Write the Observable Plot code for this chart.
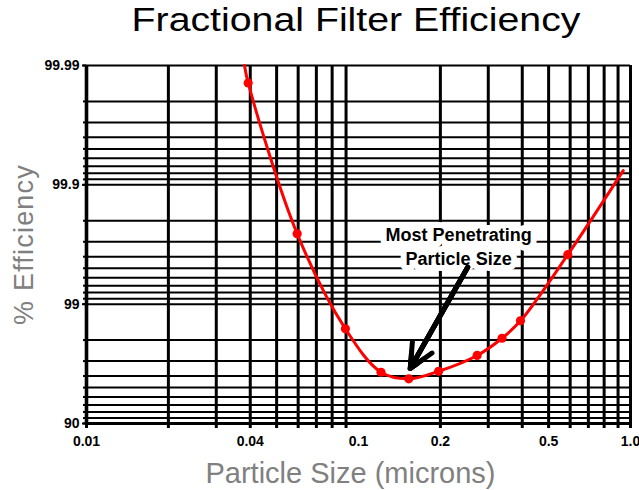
<!DOCTYPE html>
<html>
<head>
<meta charset="utf-8">
<script src="https://cdn.jsdelivr.net/npm/d3@7"></script>
<script src="https://cdn.jsdelivr.net/npm/@observablehq/plot@0.6"></script>
<style>
  body { margin: 0; background: #fff; }
  #title { position: relative; width: 639px; height: 50px; overflow: hidden; }
  #title span {
    position: absolute; left: 356px; top: 0;
    transform: translateX(-50%) scaleX(1.19);
    font: 33px "Liberation Sans", Arial, sans-serif;
    line-height: 40px; white-space: nowrap; color: #000;
  }
  #chart svg { display: block; }
</style>
</head>
<body>
<div id="title"><span>Fractional Filter Efficiency</span></div>
<div id="chart"></div>
<script>
// ---- data ----
// particle size (microns) along the red curve
const curveSize = [0.0381, 0.0393, 0.0595, 0.0895, 0.121, 0.153, 0.197, 0.273, 0.337, 0.394, 0.588, 0.94];
// % efficiency along the red curve
const curveEff  = [99.99, 99.986, 99.743, 98.39, 96.28, 95.78, 96.35, 97.31, 98.07, 98.62, 99.615, 99.924];
// which curve points carry a marker
const curveMarked = [false, true, true, true, true, true, true, true, true, true, true, false];

// vertical grid lines (particle size) - chart has no line at 0.1
const xGrid = [0.01, 0.02, 0.03, 0.04, 0.05, 0.06, 0.07, 0.08, 0.09, 0.2, 0.3, 0.4, 0.5, 0.6, 0.7, 0.8, 0.9, 1.0];
const xTickValues = [0.01, 0.04, 0.1, 0.2, 0.5, 1.0];
const xTickLabels = ["0.01", "0.04", "0.1", "0.2", "0.5", "1.0"];

// horizontal grid lines (% efficiency)
const effGrid = [99.99, 99.98, 99.97, 99.96, 99.95, 99.94, 99.93, 99.92, 99.91, 99.9,
                 99.8, 99.7, 99.6, 99.5, 99.4, 99.3, 99.2, 99.1, 99,
                 98, 97, 96, 95, 94, 93, 92, 91, 90];
const effTickValues = [99.99, 99.9, 99, 90];
const effTickLabels = ["99.99", "99.9", "99", "90"];

// annotation
const noteText = "Most Penetrating\nParticle Size";
const noteSize = 0.2334, noteEff = 99.785;
const arrowFrom = {size: 0.252, eff: 99.51};
const arrowTo   = {size: 0.155, eff: 96.54};

// ---- build ----
const pen = e => +(100 - e).toFixed(4);   // penetration = 100 - efficiency (log axis)
const curve = curveSize.map((s, i) => ({size: s, p: pen(curveEff[i]), marked: curveMarked[i]}));
const gridP = effGrid.map(pen);
const tickP = effTickValues.map(pen);
const sans = "'Liberation Sans', Arial, sans-serif";

const chart = Plot.plot({
  width: 639,
  height: 440,
  marginTop: 15,
  marginBottom: 67,
  marginLeft: 86,
  marginRight: 9,
  style: {background: "#fff", overflow: "visible"},
  x: {type: "log", domain: [0.01, 1], label: null},
  y: {type: "log", domain: [10, 0.01], label: null},
  marks: [
    Plot.ruleY(gridP, {stroke: "#000", strokeWidth: 2}),
    Plot.ruleY([pen(90)], {stroke: "#000", strokeWidth: 3.2}),
    Plot.ruleX(xGrid, {stroke: "#000", strokeWidth: 3}),
    Plot.ruleX([0.01], {stroke: "#000", strokeWidth: 3.6}),
    Plot.axisX({ticks: xGrid, tickSize: 5, tickFormat: () => "", strokeWidth: 3, label: null}),
    Plot.axisX({ticks: xTickValues, tickSize: 0, tickPadding: 13, label: null,
      tickFormat: d => xTickLabels[xTickValues.indexOf(d)],
      fontSize: 14, fontWeight: "bold", fontFamily: sans, fill: "#000"}),
    Plot.axisY({ticks: gridP, tickSize: 3, tickFormat: () => "", strokeWidth: 2, label: null}),
    Plot.axisY({ticks: tickP, tickSize: 4, tickPadding: 3, label: null, strokeWidth: 2,
      tickFormat: d => effTickLabels[tickP.indexOf(d)],
      fontSize: 14, fontWeight: "bold", fontFamily: sans, fill: "#000"}),
    Plot.line(curve, {x: "size", y: "p", curve: "catmull-rom", stroke: "#ff0000", strokeWidth: 3}),
    Plot.dot(curve.filter(d => d.marked), {x: "size", y: "p", r: 4.6, fill: "#ff0000"}),
    Plot.text([noteText], {x: noteSize, y: pen(noteEff), text: d => d, lineAnchor: "top",
      lineHeight: 1.33, fontSize: 18, fontWeight: "bold", fontFamily: sans,
      fill: "#000", stroke: "#fff", strokeWidth: 12, strokeLinejoin: "round"}),
    Plot.arrow([arrowFrom], {x1: "size", y1: d => pen(d.eff), x2: () => arrowTo.size, y2: () => pen(arrowTo.eff),
      stroke: "#000", strokeWidth: 5, headLength: 8, headAngle: 50}),
    Plot.arrow([arrowFrom], {x1: "size", y1: d => pen(d.eff), x2: () => arrowTo.size, y2: () => pen(arrowTo.eff),
      stroke: "#000", strokeWidth: 5, headLength: 5, headAngle: 50}),
    Plot.arrow([arrowFrom], {x1: "size", y1: d => pen(d.eff), x2: () => arrowTo.size, y2: () => pen(arrowTo.eff),
      stroke: "#000", strokeWidth: 5, headLength: 2.5, headAngle: 50}),
    Plot.text(["Particle Size (microns)"], {frameAnchor: "bottom", textAnchor: "middle", lineAnchor: "middle",
      dx: -8, dy: 50, text: d => d, fontSize: 29, fill: "#808080", fontFamily: sans}),
    Plot.text(["% Efficiency"], {frameAnchor: "left", textAnchor: "middle", lineAnchor: "middle",
      dx: -62, text: d => d, rotate: -90, fontSize: 27, fill: "#808080", fontFamily: sans})
  ]
});

d3.select(chart).selectAll("text").each(function() {
  if (this.textContent === "% Efficiency") d3.select(this).style("letter-spacing", "1.2px");
});

document.getElementById("chart").appendChild(chart);
</script>
</body>
</html>
